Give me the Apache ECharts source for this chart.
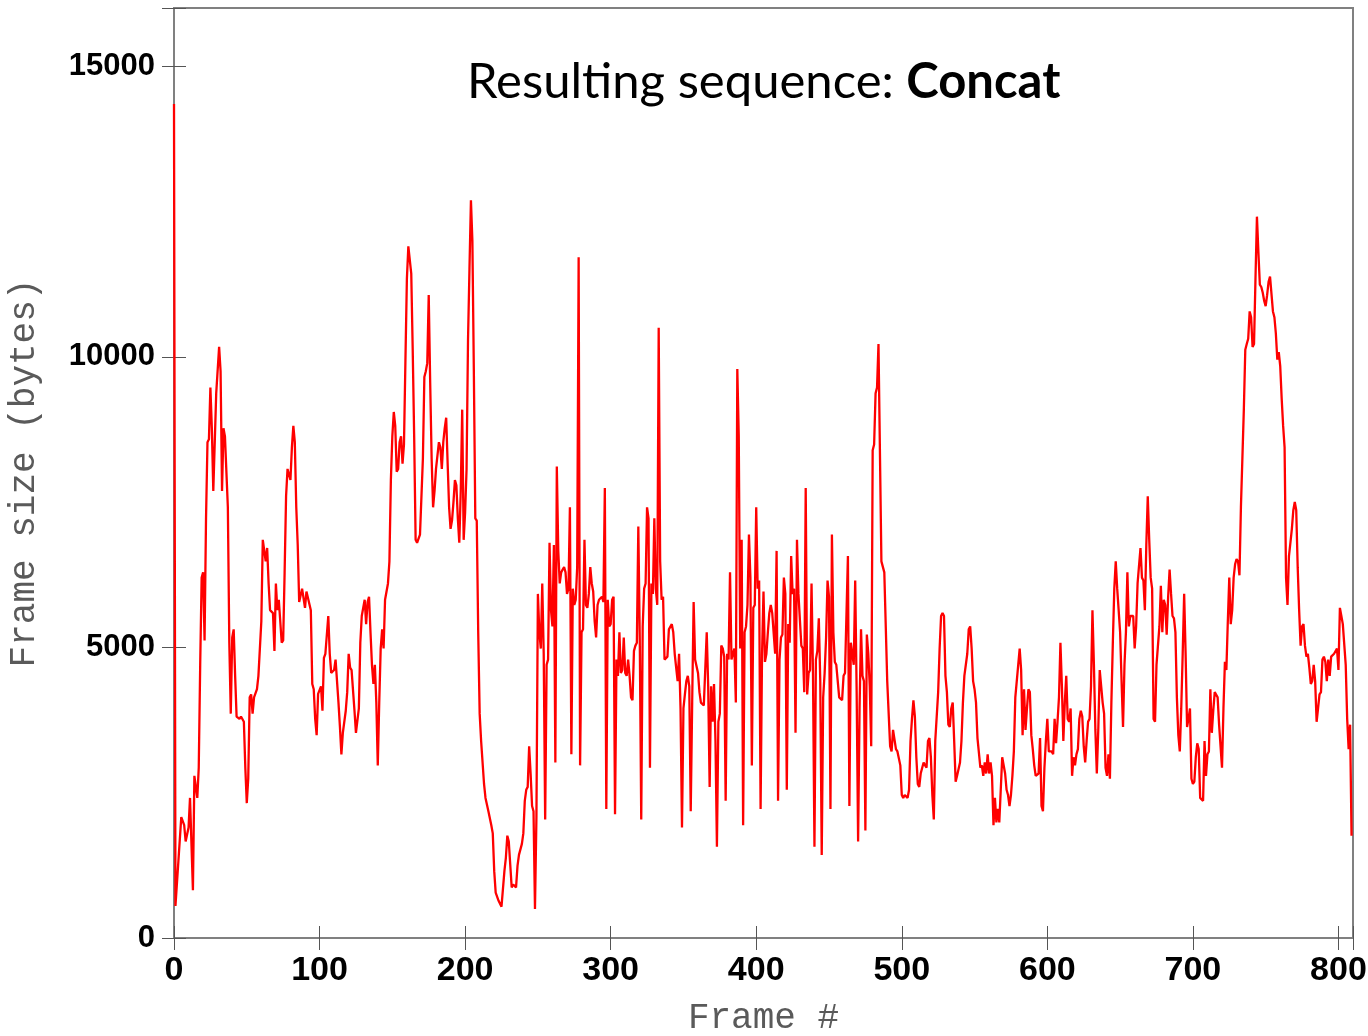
<!DOCTYPE html>
<html><head><meta charset="utf-8">
<script src="https://cdn.jsdelivr.net/npm/echarts@6/dist/echarts.min.js"></script>
<style>html,body{margin:0;padding:0;background:#fff}#c{width:1368px;height:1036px}</style>
</head><body><div id="c"></div><script>
// [frame #, frame size in bytes]
const seg000 = [[0,14350],[1,550],[5,2080],[7,1940],[8,1660],[10,1900],[11,2410],[13,820],[14,2790],[16,2410],[17,2930],[18,4700],[19,6200],[20,6290],[21,5120],[22,7220],[23,8530],[24,8580],[25,9470],[26,8770],[27,7690],[28,7690],[29,9370],[31,10170],[32,9750],[33,7690],[34,8770],[35,8630],[37,7410],[38,5080],[39,3860],[40,5170],[41,5310],[42,4510],[43,3810],[45,3770],[46,3810],[48,3720],[49,2930],[50,2320],[51,2740],[52,4140],[53,4190],[54,3860],[55,4140],[57,4280],[58,4510],[60,5450],[61,6850],[62,6850],[63,6480],[64,6710],[65,6100],[66,5640],[68,5590],[69,4940],[70,6100],[71,5640],[72,5820],[74,5080],[75,5120],[76,6290],[77,7600],[78,8070],[80,7880],[81,8440],[82,8810],[83,8530],[84,7410],[85,6760],[86,5780],[88,6010],[89,6010],[90,5680],[91,5960],[92,5960],[94,5640],[95,4370],[96,4280],[97,3770],[98,3490],[99,4200]];
const seg100 = [[101,4330],[102,3910],[103,4820],[104,4890],[106,5540],[107,4890],[108,4560],[110,4610],[111,4790],[113,4050],[114,3630],[115,3160],[116,3530],[118,3910],[119,4230],[120,4890],[121,4650],[122,4610],[124,3910],[125,3530],[127,3950],[128,5080],[129,5540],[131,5820],[132,5400],[133,5780],[134,5870],[135,5260],[136,4700],[137,4370],[138,4700],[139,4050],[140,2970],[141,4050],[142,4980],[143,5310],[144,4980],[145,5820],[147,6100],[148,6480],[149,7880],[150,8630],[151,9050],[152,8810],[153,8020],[154,8070],[155,8530],[156,8630],[157,8160],[158,8490],[159,9940],[160,11340],[161,11900],[163,11430],[164,10120],[165,8630],[166,6850],[167,6800],[169,6940],[170,6940],[171,8250],[172,9650],[173,9750],[174,9890],[175,11060],[176,9560],[177,8250],[178,7410],[179,7690],[180,8070],[181,8070],[182,8530],[183,8440],[184,8070],[185,8530],[186,8770],[187,8950],[188,8160],[189,7410],[190,7040],[191,7180],[192,7500],[193,7880],[194,7790],[195,7220],[196,6800],[197,7690],[198,9090],[199,6850]];
const seg200 = [[200,7320],[201,8070],[202,10300],[203,11520],[204,12690],[205,11990],[206,9750],[207,7220],[208,7180],[209,5260],[210,3860],[211,3390],[212,3020],[213,2650],[214,2410],[216,2180],[218,1940],[219,1800],[220,1150],[221,780],[223,640],[224,640],[225,540],[227,1150],[228,1380],[229,1760],[230,1660],[231,1660],[232,870],[233,920],[235,870],[236,1240],[237,1430],[239,1620],[240,1800],[241,2360],[242,2550],[243,2600],[244,3300],[245,2830],[246,2270],[247,2180],[248,500],[249,2080],[250,5920],[251,5260],[252,4980],[253,6100],[254,4890],[255,2040],[256,4700],[257,4790],[258,6800],[259,5640],[260,5360],[261,6760],[262,3020],[263,8110],[264,6660],[265,6100],[266,6290],[267,6340],[268,6380],[269,6290],[270,5920],[271,6010],[272,7410],[273,3160],[274,6010],[275,5730],[276,5820],[277,6380],[278,11710],[279,2970],[280,5260],[281,5310],[282,6850],[283,5730],[284,5680],[285,5920],[286,6380],[287,6100],[288,5960],[289,5450],[290,5170],[291,5730],[292,5820],[293,5820],[294,5870],[295,5780],[296,7740],[297,2220],[298,5820],[299,5360]];
const seg300 = [[300,5400],[301,5820],[302,5870],[303,2130],[304,4790],[305,4510],[306,5260],[307,4560],[308,4610],[309,5170],[310,4560],[311,4510],[312,4790],[313,4510],[314,4140],[315,4090],[316,4940],[317,5030],[318,5080],[319,7080],[320,5120],[321,2040],[322,5360],[323,6010],[324,6100],[325,7410],[326,7220],[327,2930],[328,6100],[329,5920],[330,7220],[331,6010],[332,5730],[333,10500],[334,6480],[335,5820],[336,5870],[337,4790],[338,4790],[339,4840],[340,5310],[342,5400],[343,5260],[344,4890],[345,4650],[346,4420],[347,4890],[348,3950],[349,1900],[350,3950],[351,4190],[352,4420],[353,4510],[354,4330],[355,2180],[356,4050],[357,5780],[358,4790],[359,4790],[360,4560],[361,4230],[362,4050],[364,4000],[365,4000],[366,5260],[367,4330],[368,2600],[369,4330],[370,3720],[371,4370],[372,3390],[373,1570],[374,3720],[375,3860],[376,5030],[377,4980],[378,4840],[379,2360],[380,4890],[381,4790],[382,6290],[383,4790],[384,4890],[385,4980],[386,4050],[387,9790],[388,8630],[389,4980],[390,6850],[391,1940],[392,5260],[393,5360],[394,5730],[395,6940],[396,6200],[397,2970],[398,5680],[399,5730]];
const seg400 = [[400,7410],[401,6010],[402,6150],[403,2220],[404,4890],[405,5960],[406,4750],[407,4890],[408,5260],[409,5590],[410,5730],[411,5590],[412,5590],[413,4890],[414,6660],[415,2360],[416,4790],[417,5170],[418,5220],[419,6200],[420,5920],[421,2550],[422,5400],[423,5080],[424,6570],[425,5920],[426,6010],[427,3530],[428,6850],[429,5920],[430,5920],[431,5030],[432,4980],[433,4230],[434,7740],[435,4190],[436,4560],[437,4610],[438,6100],[439,4560],[440,1570],[441,4790],[442,4940],[443,5500],[444,4420],[445,1430],[446,4140],[447,4560],[448,5170],[449,6150],[450,5870],[451,2220],[452,6940],[453,5260],[454,4750],[455,4700],[456,4700],[457,4140],[459,4090],[460,4510],[461,4560],[462,4560],[463,6570],[464,2270],[465,5080],[466,5080],[467,4700],[468,6150],[469,4230],[470,1660],[471,3950],[472,5310],[473,4510],[474,4420],[475,1850],[476,5220],[477,4890],[478,4330],[479,3300],[480,8390],[481,8490],[482,9370],[483,9470],[484,10220],[485,10220],[486,6480],[487,6480],[488,6290],[489,5360],[490,4420],[492,3300],[493,3210],[494,3580],[495,3580],[496,3250],[497,3210],[499,2970]];
const seg500 = [[500,2460],[501,2410],[502,2460],[504,2410],[505,2550],[506,3390],[507,3770],[508,4090],[509,3810],[510,3110],[511,2650],[512,2600],[513,2830],[514,2830],[515,3020],[516,2970],[517,2930],[518,3390],[519,3440],[520,3110],[521,2460],[522,2040],[523,3390],[525,4230],[526,4980],[527,5540],[528,5590],[529,5540],[530,4510],[531,4230],[532,3670],[533,3630],[534,3950],[535,4050],[536,3390],[537,2690],[538,2790],[540,3020],[541,3390],[542,4050],[543,4510],[545,4890],[546,5310],[547,5360],[548,4980],[549,4420],[550,4280],[551,4050],[552,3440],[553,3440],[554,2930],[555,2970],[556,2790],[557,3020],[558,2830],[559,3160],[560,2830],[561,3020],[562,2790],[563,1940],[564,2410],[565,1990],[566,2220],[567,1990],[568,2550],[569,3110],[571,2830],[572,2550],[573,2460],[574,2270],[575,2460],[576,2790],[577,3210],[578,4140],[580,4700],[581,4980],[582,4610],[583,3490],[584,4280],[585,3580],[586,3950],[587,4280],[588,4230],[589,3490],[590,3250],[591,2970],[592,2790],[594,2830],[595,3440],[596,2270],[597,2180],[598,2930],[599,3390]];
const seg600 = [[600,3770],[601,3210],[603,3210],[604,3160],[605,3770],[606,3350],[607,3720],[608,4140],[609,5080],[610,4330],[611,3390],[612,4050],[613,4510],[614,3770],[615,3720],[616,3950],[617,2790],[618,3110],[619,2970],[620,3160],[621,3250],[622,3770],[623,3910],[624,3810],[625,3300],[626,3020],[627,3390],[628,3720],[629,3770],[630,4330],[631,5640],[632,4700],[633,3580],[634,2830],[635,3580],[636,4610],[637,4330],[638,4050],[639,3860],[640,2930],[641,2790],[642,3160],[643,2740],[644,4050],[645,5080],[646,6010],[647,6480],[648,6010],[649,5640],[650,5260],[651,4420],[652,3630],[653,4700],[654,5260],[655,6290],[656,5360],[657,5540],[658,5540],[659,5540],[660,4980],[661,5360],[662,6100],[664,6710],[665,6200],[666,6150],[667,5640],[668,6760],[669,7600],[670,6850],[671,6200],[672,6010],[673,3770],[674,3720],[675,4700],[676,4700],[677,5360],[678,6060],[679,5260],[680,5820],[681,5730],[682,5220],[683,5870],[684,6340],[685,5920],[686,5540],[687,5500],[688,5260],[689,4140],[690,3490],[691,3210],[692,3950],[693,4890],[694,5920],[695,4890],[696,3630],[697,3770],[698,3950],[699,2740]];
const seg700 = [[700,2650],[701,2690],[702,3110],[703,3350],[704,3250],[705,2410],[706,2410],[707,2360],[708,3390],[709,2790],[710,3160],[711,3210],[712,4280],[713,3530],[714,3910],[715,4230],[717,4140],[718,3670],[719,3300],[720,2930],[721,3950],[722,4750],[723,4610],[724,5450],[725,6200],[726,5400],[727,5640],[728,6200],[729,6430],[730,6520],[731,6480],[732,6240],[733,7410],[734,8250],[735,9090],[736,10120],[737,10220],[738,10310],[739,10780],[740,10680],[741,10170],[742,10220],[743,11340],[744,12410],[745,11800],[746,11240],[747,11200],[748,11100],[749,10960],[750,10870],[751,11060],[752,11290],[753,11380],[754,11380],[755,10780],[756,10680],[757,10400],[758,9950],[759,10080],[760,9840],[761,9280],[762,8810],[763,8440],[764,6200],[765,5730],[766,6570],[767,6800],[768,7040],[769,7360],[770,7500],[771,7360],[772,6380],[773,5640],[774,5030],[775,5360],[776,5400],[777,5030],[778,4840],[779,4890],[780,4650],[781,4370],[782,4420],[783,4700],[784,4420],[785,3720],[786,3950],[787,4190],[788,4230],[789,4790],[790,4840],[791,4750],[792,4420],[793,4790],[794,4510],[795,4840],[796,4840],[797,4890],[798,4890],[799,4980]];
const seg800 = [[800,4610],[801,5680],[802,5540],[803,5400],[804,5400],[805,4700],[806,3770],[807,3250],[808,3670],[809,1760]];

const xTicks = [0,100,200,300,400,500,600,700,800];
const yTicks = [0,5000,10000,15000];
const titlePlain = 'Resulting sequence: ';
const titleBold = 'Concat';
const xName = 'Frame #';
const yName = 'Frame size (bytes)';

const frameSizes = [].concat(seg000, seg100, seg200, seg300, seg400, seg500, seg600, seg700, seg800);

const chart = echarts.init(document.getElementById('c'), null, {renderer: 'canvas'});
const tick = {show: true, inside: true, length: 12, lineStyle: {color: '#555', width: 1}};
const nameStyle = {fontFamily: 'Liberation Mono', fontSize: 36, color: '#5a5a5a', fontWeight: 'normal'};
chart.setOption({
  animation: false,
  backgroundColor: '#fff',
  title: {
    left: 462, top: 53,
    text: '{a|' + titlePlain + '}{b|' + titleBold + '}',
    textStyle: {fontWeight: 'normal', rich: {
      a: {fontFamily: 'Lato', fontSize: 49, fontWeight: 'normal', color: '#000'},
      b: {fontFamily: 'Lato', fontSize: 49, fontWeight: 'bold', color: '#000'}
    }}
  },
  grid: {left: 174, right: 15, top: 8, bottom: 98, outerBoundsMode: 'none', containLabel: false,
         show: true, borderColor: '#808080', borderWidth: 2, backgroundColor: 'transparent'},
  xAxis: [
    {type: 'value', position: 'bottom', min: 0, max: 810, interval: 100,
     axisLine: {show: false}, axisTick: tick, splitLine: {show: false},
     axisLabel: {margin: 16, color: '#000', fontWeight: 'bold', fontSize: 34,
       fontFamily: 'Liberation Sans Narrow, Liberation Sans',
       formatter: v => xTicks.includes(v) ? String(v) : ''},
     name: xName, nameLocation: 'middle', nameGap: 62, nameTextStyle: nameStyle},
    {type: 'value', position: 'top', min: 0, max: 810, interval: 100,
     axisLine: {show: false}, axisTick: tick, splitLine: {show: false}, axisLabel: {show: false}}
  ],
  yAxis: [
    {type: 'value', position: 'left', min: 0, max: 16000, interval: 5000,
     axisLine: {show: false}, axisTick: tick, splitLine: {show: false},
     axisLabel: {margin: 19, color: '#000', fontWeight: 'bold', fontSize: 31,
       fontFamily: 'Liberation Sans',
       formatter: v => yTicks.includes(v) ? String(v) : ''},
     name: yName, nameLocation: 'middle', nameGap: 132, nameRotate: 90, nameTextStyle: nameStyle},
    {type: 'value', position: 'right', min: 0, max: 16000, interval: 5000,
     axisLine: {show: false}, axisTick: tick, splitLine: {show: false}, axisLabel: {show: false}}
  ],
  series: [{
    type: 'line', xAxisIndex: 0, yAxisIndex: 0, data: frameSizes,
    showSymbol: false, symbol: 'none', z: 5,
    lineStyle: {color: '#ff0000', width: 2.3}
  }]
});
</script></body></html>
